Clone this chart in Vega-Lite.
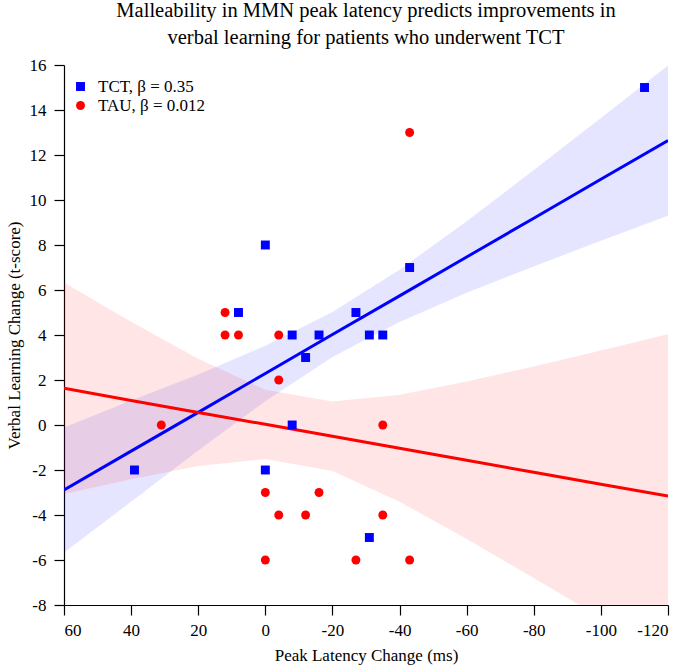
{
  "$schema": "https://vega.github.io/schema/vega-lite/v6.json",
  "width": 604,
  "height": 540,
  "autosize": {"type": "none"},
  "padding": {"left": 64, "top": 65, "right": 17, "bottom": 67},
  "background": "white",
  "title": {
    "text": ["Malleability in MMN peak latency predicts improvements in", "verbal learning for patients who underwent TCT"],
    "font": "Liberation Serif",
    "fontSize": 20.5,
    "fontWeight": "normal",
    "lineHeight": 27,
    "anchor": "middle",
    "offset": 8,
    "color": "black"
  },
  "config": {
    "view": {"stroke": null},
    "axis": {
      "grid": false,
      "domainColor": "black",
      "tickColor": "black",
      "labelColor": "black",
      "titleColor": "black",
      "labelFont": "Liberation Serif",
      "titleFont": "Liberation Serif",
      "labelFontSize": 17,
      "titleFontSize": 17,
      "titleFontWeight": "normal",
      "tickSize": 10,
      "domainWidth": 1.2,
      "tickWidth": 1.2
    },
    "legend": {
      "orient": "none", "legendX": 8, "legendY": 13, "title": null,
      "labelFont": "Liberation Serif", "labelFontSize": 17, "labelColor": "black",
      "symbolSize": 80, "rowPadding": 1, "labelOffset": 9, "symbolStrokeWidth": 0,
      "symbolOpacity": 1
    }
  },
  "datasets": {
    "points": [
      {"x": -113, "y": 15, "group": "TCT"},
      {"x": 0, "y": 8, "group": "TCT"},
      {"x": 8, "y": 5, "group": "TCT"},
      {"x": -8, "y": 4, "group": "TCT"},
      {"x": -16, "y": 4, "group": "TCT"},
      {"x": -12, "y": 3, "group": "TCT"},
      {"x": -27, "y": 5, "group": "TCT"},
      {"x": -31, "y": 4, "group": "TCT"},
      {"x": -35, "y": 4, "group": "TCT"},
      {"x": -43, "y": 7, "group": "TCT"},
      {"x": -8, "y": 0, "group": "TCT"},
      {"x": 0, "y": -2, "group": "TCT"},
      {"x": -31, "y": -5, "group": "TCT"},
      {"x": 39, "y": -2, "group": "TCT"},
      {"x": 12, "y": 5, "group": "TAU"},
      {"x": 12, "y": 4, "group": "TAU"},
      {"x": 8, "y": 4, "group": "TAU"},
      {"x": -4, "y": 4, "group": "TAU"},
      {"x": -4, "y": 2, "group": "TAU"},
      {"x": -35, "y": 0, "group": "TAU"},
      {"x": 0, "y": -3, "group": "TAU"},
      {"x": -16, "y": -3, "group": "TAU"},
      {"x": -4, "y": -4, "group": "TAU"},
      {"x": -12, "y": -4, "group": "TAU"},
      {"x": -35, "y": -4, "group": "TAU"},
      {"x": 0, "y": -6, "group": "TAU"},
      {"x": -27, "y": -6, "group": "TAU"},
      {"x": -43, "y": -6, "group": "TAU"},
      {"x": 31, "y": 0, "group": "TAU"},
      {"x": -43, "y": 13, "group": "TAU"}
    ],
    "fits": [
      {"x": 60, "group": "TCT", "lo": -5.67, "fit": -2.89, "hi": -0.11},
      {"x": 40, "group": "TCT", "lo": -3.41, "fit": -1.16, "hi": 1.09},
      {"x": 20, "group": "TCT", "lo": -1.13, "fit": 0.56, "hi": 2.25},
      {"x": 0, "group": "TCT", "lo": 1.06, "fit": 2.29, "hi": 3.52},
      {"x": -20, "group": "TCT", "lo": 3.02, "fit": 4.02, "hi": 5.02},
      {"x": -40, "group": "TCT", "lo": 4.58, "fit": 5.74, "hi": 6.9},
      {"x": -60, "group": "TCT", "lo": 5.88, "fit": 7.47, "hi": 9.06},
      {"x": -80, "group": "TCT", "lo": 7.05, "fit": 9.19, "hi": 11.33},
      {"x": -100, "group": "TCT", "lo": 8.19, "fit": 10.92, "hi": 13.65},
      {"x": -120, "group": "TCT", "lo": 9.3, "fit": 12.64, "hi": 15.98},
      {"x": 60, "group": "TAU", "lo": -3.07, "fit": 1.63, "hi": 6.33},
      {"x": 40, "group": "TAU", "lo": -2.41, "fit": 1.09, "hi": 4.59},
      {"x": 20, "group": "TAU", "lo": -1.82, "fit": 0.56, "hi": 2.94},
      {"x": 0, "group": "TAU", "lo": -1.51, "fit": 0.03, "hi": 1.57},
      {"x": -20, "group": "TAU", "lo": -2.04, "fit": -0.5, "hi": 1.04},
      {"x": -40, "group": "TAU", "lo": -3.41, "fit": -1.03, "hi": 1.35},
      {"x": -60, "group": "TAU", "lo": -5.07, "fit": -1.57, "hi": 1.93},
      {"x": -80, "group": "TAU", "lo": -6.8, "fit": -2.1, "hi": 2.6},
      {"x": -100, "group": "TAU", "lo": -8.57, "fit": -2.63, "hi": 3.31},
      {"x": -120, "group": "TAU", "lo": -10.35, "fit": -3.16, "hi": 4.03}
    ]
  },
  "layer": [
    {
      "data": {"name": "fits"},
      "mark": {"type": "area", "clip": true, "opacity": 0.1},
      "encoding": {
        "x": {
          "field": "x", "type": "quantitative",
          "scale": {"domain": [-120, 60], "reverse": true, "nice": false, "zero": false},
          "axis": {
            "values": [60, 40, 20, 0, -20, -40, -60, -80, -100, -120],
            "labelExpr": "'' + datum.value",
            "title": "Peak Latency Change (ms)",
            "labelPadding": 7,
            "titlePadding": 9
          }
        },
        "y": {
          "field": "lo", "type": "quantitative",
          "scale": {"domain": [-8, 16], "nice": false, "zero": false},
          "axis": {
            "values": [-8, -6, -4, -2, 0, 2, 4, 6, 8, 10, 12, 14, 16],
            "labelExpr": "'' + datum.value",
            "title": "Verbal Learning Change (t-score)",
            "labelPadding": 8,
            "titlePadding": 6
          }
        },
        "y2": {"field": "hi"},
        "color": {"field": "group", "type": "nominal", "scale": {"domain": ["TCT", "TAU"], "range": ["#0000ff", "#ff0000"]}}
      }
    },
    {
      "data": {"name": "fits"},
      "mark": {"type": "line", "clip": true, "strokeWidth": 3},
      "encoding": {
        "x": {"field": "x", "type": "quantitative"},
        "y": {"field": "fit", "type": "quantitative"},
        "color": {"field": "group", "type": "nominal"}
      }
    },
    {
      "data": {"name": "points"},
      "mark": {"type": "point", "filled": true, "opacity": 1, "size": 80},
      "encoding": {
        "x": {"field": "x", "type": "quantitative"},
        "y": {"field": "y", "type": "quantitative"},
        "color": {
          "field": "group", "type": "nominal",
          "legend": {"labelExpr": "datum.label == 'TCT' ? 'TCT, β = 0.35' : 'TAU, β = 0.012'"}
        },
        "shape": {
          "field": "group", "type": "nominal",
          "scale": {"domain": ["TCT", "TAU"], "range": ["square", "circle"]},
          "legend": {"labelExpr": "datum.label == 'TCT' ? 'TCT, β = 0.35' : 'TAU, β = 0.012'"}
        }
      }
    }
  ]
}
